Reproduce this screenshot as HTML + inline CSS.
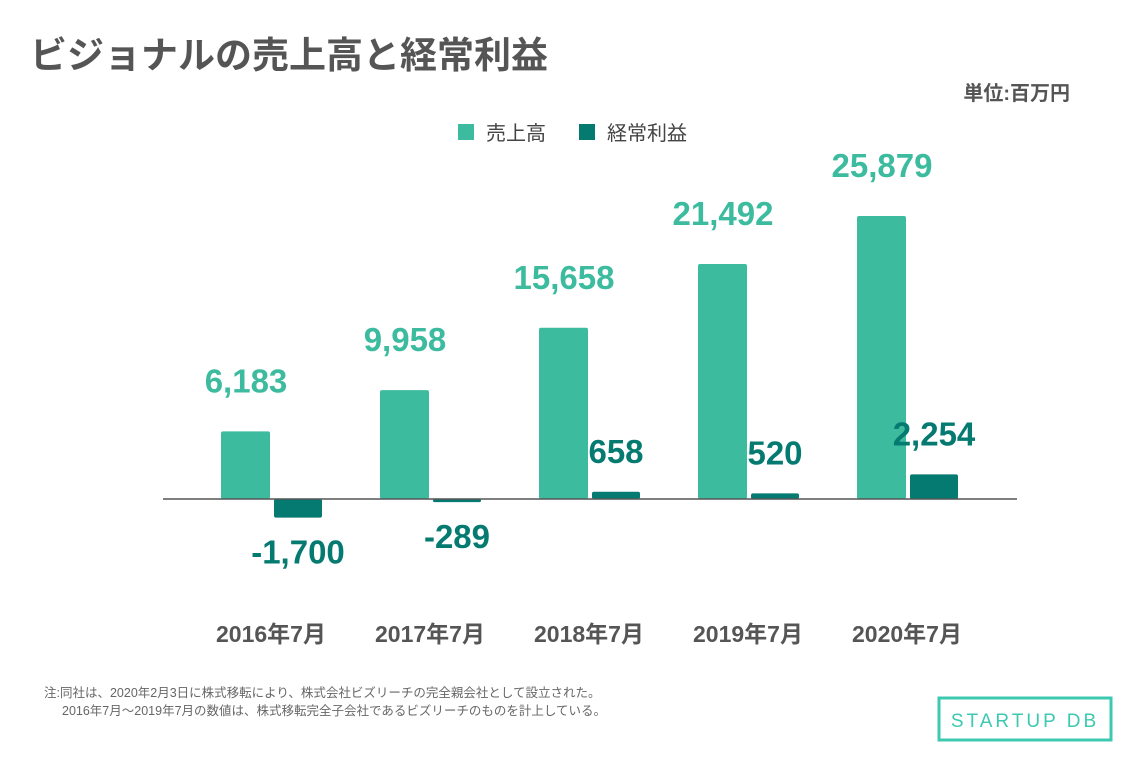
<!DOCTYPE html>
<html><head><meta charset="utf-8"><style>
body{margin:0;width:1132px;height:755px;background:#fff;overflow:hidden;font-family:"Liberation Sans","Noto Sans CJK JP",sans-serif;}
svg text{font-family:"Liberation Sans","Noto Sans CJK JP",sans-serif;}
</style></head><body>
<svg id="chart" width="1132" height="755">
<text x="30" y="68" font-size="37" font-weight="bold" fill="#555">ビジョナルの売上高と経常利益</text>
<text x="1070" y="100" font-size="20" font-weight="bold" fill="#555" text-anchor="end">単位:百万円</text>
<g>
<rect x="458" y="124" width="16" height="16" fill="#3dbb9f"/>
<text x="486" y="140" font-size="20" fill="#444">売上高</text>
<rect x="579" y="124" width="16" height="16" fill="#047a70"/>
<text x="607" y="140" font-size="20" fill="#444">経常利益</text>
</g>
<g id="bars"></g>
<line x1="163" y1="499" x2="1017" y2="499" stroke="#555" stroke-width="1.5"/>
<text x="44" y="697" font-size="12.5" fill="#666">注:同社は、2020年2月3日に株式移転により、株式会社ビズリーチの完全親会社として設立された。</text>
<text x="62" y="715" font-size="12.5" fill="#666">2016年7月～2019年7月の数値は、株式移転完全子会社であるビズリーチのものを計上している。</text>
<g>
<rect x="939" y="698" width="172" height="42" fill="none" stroke="#3cc9b0" stroke-width="3"/>
<text x="1025" y="727" font-size="19" fill="#3cc9b0" text-anchor="middle" letter-spacing="3">STARTUP DB</text>
</g>
</svg>
<script>
const categories=["2016年7月","2017年7月","2018年7月","2019年7月","2020年7月"];
const revenue=[6183,9958,15658,21492,25879];
const profit=[-1700,-289,658,520,2254];
const baseY=499, scale=283/25879;
function y(v){return baseY - v*scale;}
function cx(i){return 272 + i*159;}
const g=document.getElementById('bars');
const NS="http://www.w3.org/2000/svg";
function fmt(v){return (v<0?"-":"")+Math.abs(v).toLocaleString("en-US");}
categories.forEach((c,i)=>{
  const r=document.createElementNS(NS,'rect');
  r.setAttribute('x',cx(i)-51);r.setAttribute('width',49);
  r.setAttribute('y',Math.min(y(revenue[i]),baseY));r.setAttribute('height',Math.abs(y(revenue[i])-baseY));
  r.setAttribute('fill','#3dbb9f');r.setAttribute('rx',2);
  
  
  g.appendChild(r);
  const p=document.createElementNS(NS,'rect');
  p.setAttribute('x',cx(i)+2);p.setAttribute('width',48);
  p.setAttribute('y',Math.min(y(profit[i]),baseY));p.setAttribute('height',Math.max(2,Math.abs(y(profit[i])-baseY)));
  p.setAttribute('fill','#047a70');p.setAttribute('rx',2);
  
  
  g.appendChild(p);
  const rl=document.createElementNS(NS,'text');
  rl.setAttribute('x',cx(i)-26);rl.setAttribute('y',y(revenue[i])-39);
  rl.setAttribute('text-anchor','middle');rl.setAttribute('font-size','33');rl.setAttribute('font-weight','bold');rl.setAttribute('fill','#3dbb9f');
  rl.textContent=fmt(revenue[i]);
  
  
  g.appendChild(rl);
  const pl=document.createElementNS(NS,'text');
  pl.setAttribute('x',cx(i)+26);
  pl.setAttribute('y',profit[i]<0?Math.max(y(profit[i]),baseY)+46:y(profit[i])-29);
  pl.setAttribute('text-anchor','middle');pl.setAttribute('font-size','33');pl.setAttribute('font-weight','bold');pl.setAttribute('fill','#047a70');
  pl.textContent=fmt(profit[i]);
  
  
  g.appendChild(pl);
  const cl=document.createElementNS(NS,'text');
  cl.setAttribute('x',cx(i)-1);cl.setAttribute('y',642);
  cl.setAttribute('text-anchor','middle');cl.setAttribute('font-size','23');cl.setAttribute('font-weight','bold');cl.setAttribute('fill','#555');
  cl.textContent=c;
  
  
  g.appendChild(cl);
});
</script>
</body></html>
